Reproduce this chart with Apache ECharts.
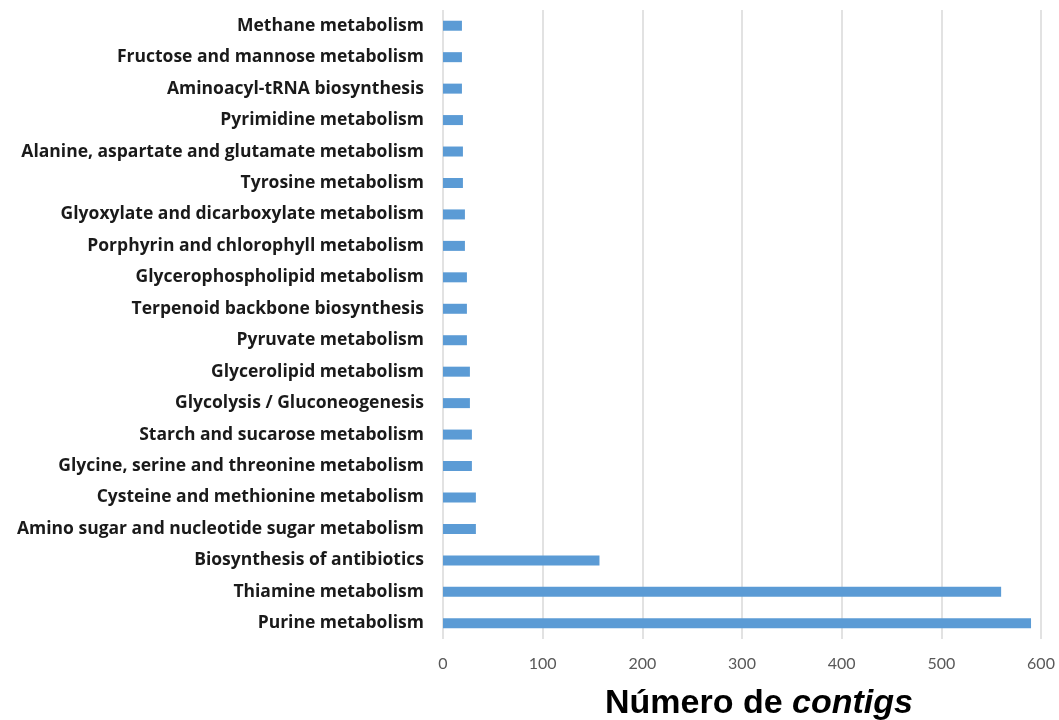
<!DOCTYPE html>
<html>
<head>
<meta charset="utf-8">
<script src="https://cdn.jsdelivr.net/npm/echarts@6/dist/echarts.min.js"></script>
<style>
  html, body { margin: 0; padding: 0; background: #fff; }
  #chart { width: 1059px; height: 720px; }
</style>
</head>
<body>
<div id="chart"></div>
<script>
// vías KEGG, de arriba a abajo
const pathways = [
    'Methane metabolism',
    'Fructose and mannose metabolism',
    'Aminoacyl-tRNA biosynthesis',
    'Pyrimidine metabolism',
    'Alanine, aspartate and glutamate metabolism',
    'Tyrosine metabolism',
    'Glyoxylate and dicarboxylate metabolism',
    'Porphyrin and chlorophyll metabolism',
    'Glycerophospholipid metabolism',
    'Terpenoid backbone biosynthesis',
    'Pyruvate metabolism',
    'Glycerolipid metabolism',
    'Glycolysis / Gluconeogenesis',
    'Starch and sucarose metabolism',
    'Glycine, serine and threonine metabolism',
    'Cysteine and methionine metabolism',
    'Amino sugar and nucleotide sugar metabolism',
    'Biosynthesis of antibiotics',
    'Thiamine metabolism',
    'Purine metabolism'
];
const contigCounts = [19, 19, 19, 20, 20, 20, 22, 22, 24, 24, 24, 27, 27, 29, 29, 33, 33, 157, 560, 590];

const chart = echarts.init(document.getElementById('chart'));

const option = {
    backgroundColor: '#ffffff',
    grid: {
        left: 443,
        right: 18,
        top: 10,
        bottom: 81,
        containLabel: false,
        outerBoundsMode: 'none'
    },
    xAxis: {
        type: 'value',
        min: 0,
        max: 600,
        interval: 100,
        axisLine: { show: false },
        axisTick: { show: false },
        axisLabel: {
            color: '#595959',
            fontSize: 16,
            fontFamily: 'Lato',
            margin: 17
        },
        splitLine: {
            lineStyle: { color: '#d9d9d9', width: 1.5 }
        },
        name: '{a|Número de }{b|contigs}',
        nameLocation: 'middle',
        nameGap: 48,
        nameTextStyle: {
            padding: [0, 0, 0, 34],
            rich: {
                a: { fontSize: 34, fontWeight: 'bold', fontFamily: 'Liberation Sans', color: '#000' },
                b: { fontSize: 34, fontWeight: 'bold', fontStyle: 'italic', fontFamily: 'Liberation Sans', color: '#000' }
            }
        }
    },
    yAxis: {
        type: 'category',
        data: pathways,
        inverse: true,
        axisLine: { show: false },
        axisTick: { show: false },
        axisLabel: {
            color: '#1a1a1a',
            fontSize: 17.5,
            fontWeight: 'bold',
            fontFamily: 'Open Sans',
            margin: 19
        },
        splitLine: { show: false }
    },
    series: [{
        type: 'bar',
        data: contigCounts,
        barWidth: 10,
        itemStyle: { color: '#5b9bd5' },
        animation: false
    }]
};
chart.setOption(option);
</script>
</body>
</html>
